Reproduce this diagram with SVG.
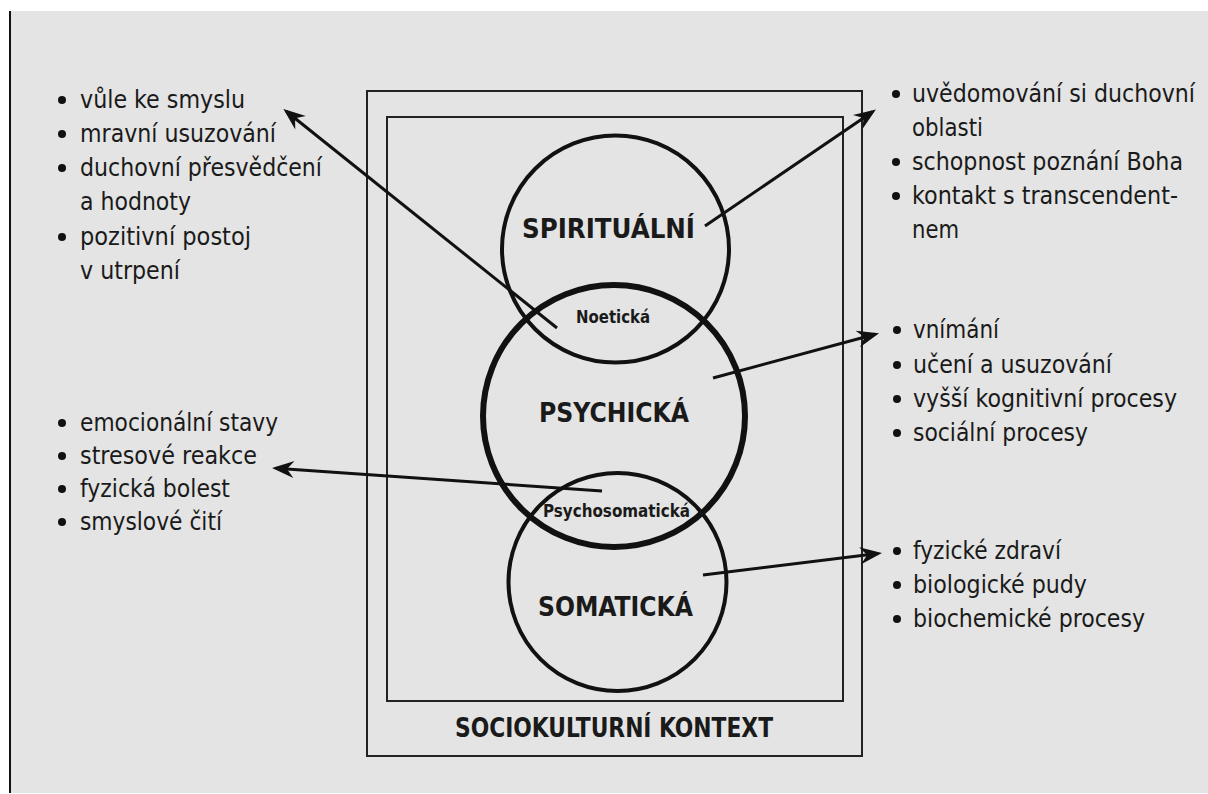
<svg xmlns="http://www.w3.org/2000/svg" width="1208" height="794" viewBox="0 0 1208 794">
<defs>
<marker id="ah" viewBox="-24 -10 26 20" markerWidth="26" markerHeight="20" refX="-4" refY="0" orient="auto" markerUnits="userSpaceOnUse">
<path d="M0,0 L-22,-8.5 L-15,0 L-22,8.5 Z" fill="#111"/>
</marker>
<style>
.frame{fill:none;stroke:#222;stroke-width:2}
.circ{fill:none;stroke:#111;stroke-width:4}
.circ2{fill:none;stroke:#111;stroke-width:6}
.big{font-family:"DejaVu Sans Condensed","DejaVu Sans",sans-serif;font-weight:bold;font-size:26px;fill:#1a1a1a}
.small{font-family:"DejaVu Sans Condensed","DejaVu Sans",sans-serif;font-weight:bold;font-size:17px;fill:#1a1a1a}
.li{font-family:"DejaVu Sans Condensed","DejaVu Sans",sans-serif;font-size:25px;fill:#1a1a1a}
.bul{fill:#111}
.arr{fill:none;stroke:#111;stroke-width:3;marker-end:url(#ah)}
</style>
</defs>
<rect x="0" y="0" width="1208" height="794" fill="#ffffff"/>
<rect x="9" y="11" width="1199" height="782" fill="#e3e4e3"/>
<line x1="10" y1="11" x2="10" y2="793" stroke="#111" stroke-width="2"/>

<g id="context">
<rect class="frame" x="367" y="91" width="495" height="665"/>
<text class="big" x="455" y="737" textLength="318" lengthAdjust="spacingAndGlyphs">SOCIOKULTURNÍ KONTEXT</text>
</g>
<g id="inner">
<rect class="frame" x="387" y="117" width="456" height="584"/>
</g>

<g id="spiritual">
<circle class="circ" cx="615.5" cy="249" r="113.5"/>
<text class="big" x="522" y="238" textLength="173" lengthAdjust="spacingAndGlyphs">SPIRITUÁLNÍ</text>
</g>
<g id="psychic">
<circle class="circ2" cx="614" cy="416" r="131"/>
<text class="big" x="539" y="422" textLength="150" lengthAdjust="spacingAndGlyphs">PSYCHICKÁ</text>
</g>
<g id="somatic">
<circle class="circ" cx="617.5" cy="582" r="109"/>
<text class="big" x="538" y="616" textLength="155" lengthAdjust="spacingAndGlyphs">SOMATICKÁ</text>
</g>
<g id="noetic">
<text class="small" x="576" y="323" textLength="74" lengthAdjust="spacingAndGlyphs">Noetická</text>
</g>
<g id="psychosomatic">
<text class="small" x="543" y="517" textLength="147" lengthAdjust="spacingAndGlyphs">Psychosomatická</text>
</g>

<g id="connectors">
<line class="arr" x1="557" y1="328" x2="286.5" y2="111.5"/>
<line class="arr" x1="705" y1="226" x2="872.6" y2="111.8"/>
<line class="arr" x1="713" y1="378" x2="875.2" y2="334.3"/>
<line class="arr" x1="602" y1="491" x2="276" y2="468.3"/>
<line class="arr" x1="703" y1="575" x2="878" y2="553.6"/>
</g>

<g id="list-spiritual-left">
<circle class="bul" cx="62" cy="100" r="4"/>
<text class="li" x="80" y="108" textLength="165" lengthAdjust="spacingAndGlyphs">vůle ke smyslu</text>
<circle class="bul" cx="62" cy="134" r="4"/>
<text class="li" x="80" y="142" textLength="196" lengthAdjust="spacingAndGlyphs">mravní usuzování</text>
<circle class="bul" cx="62" cy="168" r="4"/>
<text class="li" x="80" y="176" textLength="242" lengthAdjust="spacingAndGlyphs">duchovní přesvědčení</text>
<text class="li" x="80" y="210" textLength="111" lengthAdjust="spacingAndGlyphs">a hodnoty</text>
<circle class="bul" cx="62" cy="237" r="4"/>
<text class="li" x="80" y="245" textLength="171" lengthAdjust="spacingAndGlyphs">pozitivní postoj</text>
<text class="li" x="80" y="279" textLength="100" lengthAdjust="spacingAndGlyphs">v utrpení</text>
</g>

<g id="list-spiritual-right">
<circle class="bul" cx="896" cy="94" r="4"/>
<text class="li" x="912" y="102" textLength="283" lengthAdjust="spacingAndGlyphs">uvědomování si duchovní</text>
<text class="li" x="912" y="136" textLength="71" lengthAdjust="spacingAndGlyphs">oblasti</text>
<circle class="bul" cx="896" cy="162" r="4"/>
<text class="li" x="912" y="170" textLength="271" lengthAdjust="spacingAndGlyphs">schopnost poznání Boha</text>
<circle class="bul" cx="896" cy="196" r="4"/>
<text class="li" x="912" y="204" textLength="266" lengthAdjust="spacingAndGlyphs">kontakt s transcendent-</text>
<text class="li" x="912" y="238" textLength="47" lengthAdjust="spacingAndGlyphs">nem</text>
</g>

<g id="list-psychic">
<circle class="bul" cx="897" cy="330" r="4"/>
<text class="li" x="913" y="338" textLength="86" lengthAdjust="spacingAndGlyphs">vnímání</text>
<circle class="bul" cx="897" cy="365" r="4"/>
<text class="li" x="913" y="373" textLength="199" lengthAdjust="spacingAndGlyphs">učení a usuzování</text>
<circle class="bul" cx="897" cy="399" r="4"/>
<text class="li" x="913" y="407" textLength="264" lengthAdjust="spacingAndGlyphs">vyšší kognitivní procesy</text>
<circle class="bul" cx="897" cy="433" r="4"/>
<text class="li" x="913" y="441" textLength="175" lengthAdjust="spacingAndGlyphs">sociální procesy</text>
</g>

<g id="list-psychosomatic">
<circle class="bul" cx="62" cy="423" r="4"/>
<text class="li" x="80" y="431" textLength="198" lengthAdjust="spacingAndGlyphs">emocionální stavy</text>
<circle class="bul" cx="62" cy="456" r="4"/>
<text class="li" x="80" y="464" textLength="177" lengthAdjust="spacingAndGlyphs">stresové reakce</text>
<circle class="bul" cx="62" cy="489" r="4"/>
<text class="li" x="80" y="497" textLength="150" lengthAdjust="spacingAndGlyphs">fyzická bolest</text>
<circle class="bul" cx="62" cy="522" r="4"/>
<text class="li" x="80" y="530" textLength="142" lengthAdjust="spacingAndGlyphs">smyslové čití</text>
</g>

<g id="list-somatic">
<circle class="bul" cx="897" cy="551" r="4"/>
<text class="li" x="913" y="559" textLength="148" lengthAdjust="spacingAndGlyphs">fyzické zdraví</text>
<circle class="bul" cx="897" cy="585" r="4"/>
<text class="li" x="913" y="593" textLength="174" lengthAdjust="spacingAndGlyphs">biologické pudy</text>
<circle class="bul" cx="897" cy="619" r="4"/>
<text class="li" x="913" y="627" textLength="232" lengthAdjust="spacingAndGlyphs">biochemické procesy</text>
</g>
</svg>
